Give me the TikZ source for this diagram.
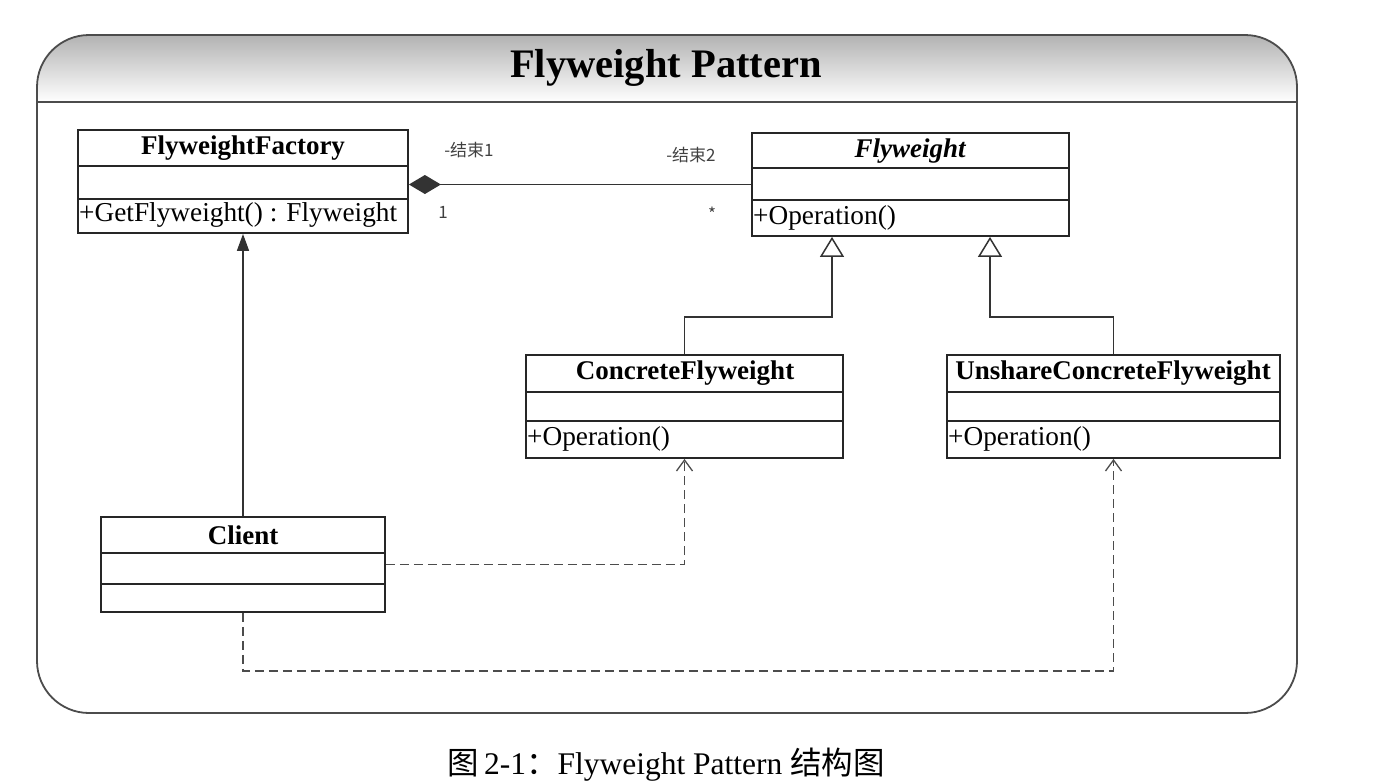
\documentclass[tikz,border=0pt]{standalone}
\usepackage{fontspec}
\setmainfont{Liberation Serif}
\newfontfamily\cjk{Noto Sans CJK SC}
\usetikzlibrary{arrows.meta,calc,fit}
\begin{document}
\begin{tikzpicture}[x=1pt,y=-1pt,
  frameline/.style={draw=black!70, line width=1.8pt},
  clsbox/.style={draw=black!85, line width=1.8pt, inner sep=0pt, fit={#1}},
  divline/.style={draw=black!85, line width=1.8pt},
  clsname/.style={font=\fontsize{27}{31}\selectfont\bfseries, inner sep=0pt},
  clsop/.style={font=\fontsize{27.3}{31}\selectfont, inner sep=0pt, anchor=west},
  rolelbl/.style={font=\cjk\fontsize{17}{19}\selectfont, text=black!75, inner sep=0pt},
  assoc/.style={draw=black!80, line width=1.6pt},
  comp/.style={assoc, {Diamond[length=32pt,width=19pt]}-},
  gen/.style={assoc, -{Triangle[open,length=20pt,width=24pt,line width=1.5pt,fill=white]}},
  navi/.style={assoc, -{Triangle[length=17pt,width=12pt]}},
  dep/.style={draw=black!70, line width=1.7pt, dash pattern=on 9pt off 5pt, -{Straight Barb[length=11pt,width=16pt,line width=1.3pt]}}
]
\useasboundingbox (0,0) rectangle (1384,782);

% outer frame with header
\begin{scope}
  \clip[rounded corners=52pt] (37,35) rectangle (1297,713);
  \shade[top color=black!30, bottom color=white] (37,35) rectangle (1297,102);
\end{scope}
\draw[frameline, rounded corners=52pt] (37,35) rectangle (1297,713);
\draw[frameline] (37,102) -- (1297,102);
\node[font=\fontsize{40.5}{48}\selectfont\bfseries, inner sep=0pt] (title) at (666,68) {Flyweight Pattern};

% FlyweightFactory
\node[clsbox={(78,130) (408,233)}] (fac) {};
\draw[divline] (78,166) -- (408,166);
\draw[divline] (78,199) -- (408,199);
\node[clsname] (facT) at (243,148) {FlyweightFactory};
\node[clsop] (facOp) at (79,215) {+GetFlyweight() : Flyweight};

% Flyweight
\node[clsbox={(752,133) (1069,236)}] (fw) {};
\draw[divline] (752,168) -- (1069,168);
\draw[divline] (752,200) -- (1069,200);
\node[clsname, font=\fontsize{27}{31}\selectfont\bfseries\itshape] (fwT) at (910,151) {Flyweight};
\node[clsop] (fwOp) at (753,218) {+Operation()};

% ConcreteFlyweight
\node[clsbox={(526,355) (843,458)}] (cf) {};
\draw[divline] (526,392) -- (843,392);
\draw[divline] (526,421) -- (843,421);
\node[clsname] (cfT) at (685,373) {ConcreteFlyweight};
\node[clsop] (cfOp) at (527,439) {+Operation()};

% UnshareConcreteFlyweight
\node[clsbox={(947,355) (1280,458)}] (ucf) {};
\draw[divline] (947,392) -- (1280,392);
\draw[divline] (947,421) -- (1280,421);
\node[clsname] (ucfT) at (1113,373) {UnshareConcreteFlyweight};
\node[clsop] (ucfOp) at (948,439) {+Operation()};

% Client
\node[clsbox={(101,517) (385,612)}] (cl) {};
\draw[divline] (101,553) -- (385,553);
\draw[divline] (101,584) -- (385,584);
\node[clsname] (clT) at (243,535) {Client};

% composition
\draw[comp] (fw.west -| fac.east) -- (fw.west);
\node[rolelbl] (r1) at (469,150) {-结束1};
\node[rolelbl] (m1) at (443,212) {1};
\node[rolelbl] (r2) at (691,155) {-结束2};
\node[rolelbl] (m2) at (712,214) {*};

% navigable association client -> factory
\draw[navi] (cl.north) -- (fac.south);

% generalizations
\coordinate (g1) at (832,317);
\coordinate (g2) at (990,317);
\draw[gen] (cf.north) |- (g1) -- (g1 |- fw.south);
\draw[gen] (ucf.north) |- (g2) -- (g2 |- fw.south);

% dependencies
\coordinate (dd) at (0,671);
\draw[dep] (cl.east) -| (cf.south);
\draw[dep] (cl.south) -- (cl.south |- dd) -| (ucf.south);

% caption
\node[font=\fontsize{31.5}{36}\selectfont, inner sep=0pt] (cap) at (666,765) {{\cjk 图}\,2-1{\cjk ：}Flyweight Pattern {\cjk 结构图}};
\end{tikzpicture}
\end{document}
